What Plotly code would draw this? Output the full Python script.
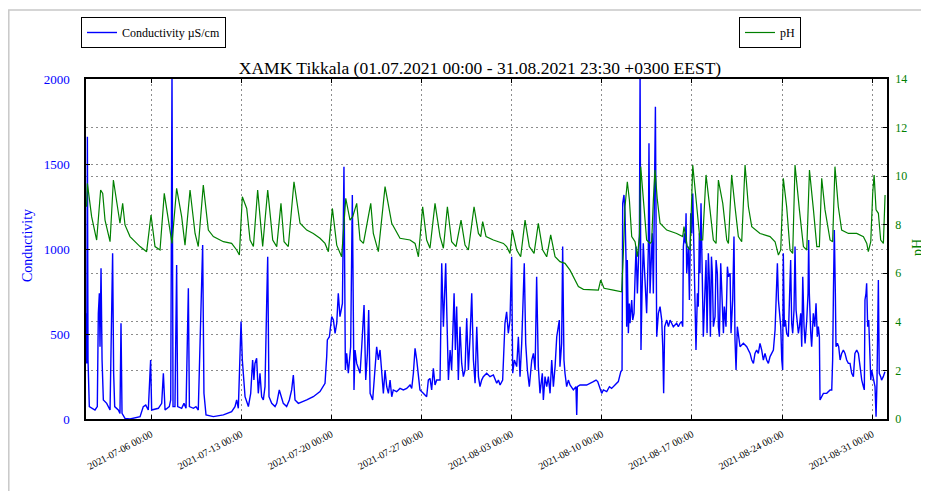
import pandas as pd
import plotly.graph_objects as go

START = pd.Timestamp("2021-07-01 00:00")
SERIF = "Liberation Serif, Times New Roman, serif"
BLUE = "#0000ff"
GREEN = "#008000"

# conductivity (µS/cm), time as days since 01.07.2021 00:00
cond_days = [
    0.00, 0.01, 0.06, 0.11, 0.21, 0.39, 0.65, 0.83, 0.91, 0.99,
    1.04, 1.12, 1.20, 1.30, 1.56, 1.82, 1.95, 2.02, 2.10, 2.18,
    2.46, 2.59, 2.67, 2.75, 2.98, 3.37, 4.15, 4.40, 4.59, 4.79,
    4.97, 5.05, 5.57, 5.83, 5.96, 6.09, 6.42, 6.53, 6.63, 6.71,
    6.86, 6.99, 7.07, 7.38, 7.56, 7.72, 7.90, 7.98, 8.29, 8.49,
    8.67, 8.93, 9.01, 9.11, 9.27, 9.84, 10.62, 11.26, 11.52, 11.65,
    11.78, 11.99, 12.09, 12.30, 12.56, 12.74, 12.89, 12.99, 13.07, 13.20,
    13.33, 13.46, 13.59, 13.72, 13.85, 13.98, 14.06, 14.16, 14.37, 14.63,
    14.76, 14.96, 15.09, 15.27, 15.53, 15.74, 15.92, 16.05, 16.18, 16.44,
    17.09, 17.60, 18.12, 18.51, 18.64, 18.69, 18.85, 18.95, 19.03, 19.16,
    19.29, 19.42, 19.54, 19.67, 19.86, 19.98, 20.09, 20.19, 20.32, 20.50,
    20.63, 20.76, 20.84, 20.97, 21.23, 21.36, 21.54, 21.67, 21.80, 21.90,
    22.01, 22.21, 22.39, 22.52, 22.65,
    22.78, 22.91, 23.04, 23.17, 23.30, 23.43, 23.56, 23.69, 23.81, 24.07,
    24.33, 24.59, 24.85, 25.11, 25.24, 25.37, 25.50, 25.63, 25.76, 25.88,
    26.14, 26.40, 26.53, 26.66, 26.79, 26.92, 27.05, 27.18, 27.44, 27.57,
    27.70, 27.78, 27.88, 27.96, 28.09, 28.22, 28.34, 28.53, 28.63, 28.73,
    28.86, 28.99, 29.12, 29.25, 29.38, 29.51, 29.64, 29.77, 29.90, 30.03,
    30.16, 30.29, 30.42, 30.54, 30.67, 30.80, 31.06, 31.32, 31.58, 31.84,
    31.97, 32.10, 32.30, 32.48, 32.61, 32.74, 32.87, 33.00, 33.08, 33.21,
    33.39, 33.52, 33.65, 33.78, 33.91, 33.98, 34.09, 34.22, 34.37, 34.56,
    34.69, 34.82, 34.94, 35.07, 35.20, 35.38, 35.46, 35.59, 35.72, 35.85,
    35.98, 36.11, 36.24, 36.37, 36.50, 36.62, 36.70, 36.75, 36.88, 36.96,
    37.06, 37.14, 37.27, 37.40, 37.53, 37.79, 37.99, 38.05, 38.10, 38.31,
    38.82, 39.34, 39.55, 39.68, 39.86, 39.99, 40.12, 40.38, 40.59, 40.76,
    41.02, 41.28, 41.47, 41.57,
    41.62, 41.72, 41.80, 41.88, 41.93, 41.98, 42.06, 42.14, 42.19, 42.32,
    42.40, 42.50, 42.58, 42.66, 42.76, 42.84, 42.92, 42.97, 43.04, 43.12,
    43.22, 43.30, 43.38, 43.48, 43.61, 43.66, 43.74, 43.82, 43.92, 44.00,
    44.08, 44.16, 44.26, 44.39, 44.52, 44.65, 44.73, 44.80, 44.88, 45.04,
    45.17, 45.30, 45.42, 45.55, 45.81, 45.94, 46.07, 46.20, 46.28, 46.33,
    46.41, 46.49, 46.54, 46.59, 46.72, 46.80, 46.90, 46.98, 47.06, 47.16,
    47.24, 47.31, 47.42, 47.49, 47.57, 47.62, 47.70, 47.78, 47.88, 47.99,
    48.09, 48.17, 48.27, 48.35, 48.43, 48.51, 48.58, 48.66, 48.79, 48.87,
    48.97, 49.05, 49.13, 49.23, 49.31, 49.44, 49.51, 49.64, 49.75, 49.83,
    49.96, 50.03, 50.16, 50.26, 50.34, 50.42, 50.52, 50.63, 50.73, 50.99,
    51.25, 51.51, 51.64, 51.77, 51.89, 52.02, 52.15, 52.28, 52.41, 52.54,
    52.67, 52.80, 52.93, 53.06, 53.19, 53.32, 53.45, 53.53, 53.63, 53.71,
    53.78, 53.89, 53.97, 54.04, 54.09, 54.17, 54.25, 54.35, 54.48, 54.56,
    54.66, 54.74, 54.82, 54.92, 55.00, 55.08, 55.18, 55.26, 55.34, 55.44,
    55.52, 55.60, 55.70, 55.78, 55.91, 56.01, 56.06, 56.11, 56.22, 56.29,
    56.42, 56.53, 56.63, 56.73, 56.81, 56.89, 56.94, 57.07, 57.20, 57.46,
    57.72, 57.85, 57.92, 57.98, 58.05, 58.13, 58.18, 58.29, 58.39, 58.50,
    58.62, 58.75, 58.88, 59.01, 59.14, 59.27, 59.40, 59.53, 59.65, 59.79,
    59.92, 60.05, 60.18, 60.31, 60.38, 60.43, 60.51, 60.56, 60.64, 60.72,
    60.80, 60.88, 60.95, 61.08, 61.21, 61.29, 61.36, 61.47, 61.54, 61.65,
    61.72, 61.85, 61.98,
]
cond_vals = [
    622, 327, 1661, 347, 73, 63, 53, 73, 622, 739,
    425, 886, 347, 112, 92, 53, 680, 975, 269, 73,
    53, 33, 563, 33, 4, 0, 14, 73, 82, 53,
    347, 53, 63, 92, 269, 53, 73, 112, 2050, 73,
    73, 906, 73, 63, 92, 63, 769, 73, 63, 73,
    53, 827, 1024, 151, 24, 14, 24, 43, 73, 112,
    63, 573, 347, 131, 73, 151, 347, 229, 327, 357,
    151, 269, 131, 112, 190, 680, 955, 131, 92, 73,
    92, 171, 131, 92, 73, 112, 171, 259, 112, 92,
    112, 131, 161, 210, 367, 465, 484, 563, 602, 582,
    504, 563, 739, 602, 680, 1484, 288, 386, 269, 425,
    1318, 171, 406, 327, 269, 425, 671, 229, 386, 641,
    151, 112, 308, 425, 347,
    406, 278, 151, 288, 190, 151, 229, 131, 171, 161,
    180, 171, 180, 200, 180, 269, 416, 347, 269, 171,
    151, 131, 229, 239, 171, 298, 200, 229, 229, 916,
    543, 739, 916, 641, 229, 406, 288, 739, 406, 661,
    229, 543, 327, 249, 288, 592, 288, 484, 739, 347,
    210, 543, 249, 190, 229, 249, 269, 249, 259, 210,
    229, 200, 229, 563, 631, 504, 582, 955, 269, 347,
    308, 484, 249, 445, 739, 916, 445, 288, 190, 347,
    386, 288, 837, 308, 151, 269, 112, 249, 190, 249,
    151, 347, 190, 308, 484, 543, 582, 308, 445, 1014,
    347, 269, 190, 229, 200, 171, 190, 24, 190, 200,
    200, 220, 229, 220, 171, 151, 171, 161, 190, 180,
    200, 220, 278, 288,
    1269, 1318, 1210, 935, 543, 935, 504, 680, 563, 700,
    582, 622, 837, 1014, 739, 955, 1092, 2050, 406, 739,
    1033, 896, 739, 622, 994, 1622, 739, 916, 1092, 739,
    1327, 1837, 484, 622, 661, 582, 425, 151, 543, 582,
    543, 582, 563, 543, 563, 543, 563, 573, 543, 1014,
    1092, 1033, 1210, 857, 1014, 700, 1210, 1092, 1327, 896,
    504, 406, 739, 661, 1092, 857, 1269, 837, 484, 720,
    935, 504, 975, 818, 484, 955, 857, 543, 602, 935,
    857, 543, 484, 916, 739, 504, 661, 543, 896, 837,
    857, 504, 700, 1073, 465, 288, 543, 484, 425, 445,
    425, 386, 347, 327, 386, 406, 386, 445, 406, 347,
    386, 347, 327, 367, 386, 406, 524, 739, 916, 700,
    622, 543, 347, 288, 975, 543, 582, 504, 484, 700,
    935, 563, 504, 641, 1014, 641, 543, 504, 543, 622,
    425, 837, 543, 445, 582, 739, 1053, 739, 504, 425,
    622, 543, 680, 484, 543, 484, 112, 131, 151, 151,
    171, 171, 347, 739, 1112, 739, 425, 445, 425, 347,
    386, 406, 386, 347, 327, 327, 269, 249, 386, 406,
    386, 308, 229, 190, 171, 700, 739, 798, 543, 582,
    386, 229, 288, 229, 190, 14, 210, 818, 269, 249,
    229, 249, 278,
]

# pH, time as days since 01.07.2021 00:00
ph_days = [
    0.00, 0.06, 0.39, 0.78, 1.09, 1.25, 1.43, 1.82, 2.08, 2.33,
    2.59, 2.80, 2.98, 3.37, 4.15, 4.66, 5.00, 5.31, 5.70, 6.03,
    6.35, 6.63, 6.99, 7.38, 7.64, 8.03, 8.42, 8.67, 9.06, 9.45,
    9.84, 10.62, 11.26, 11.65, 11.86, 12.09, 12.43, 12.69, 12.95, 13.28,
    13.67, 14.06, 14.45, 14.76, 15.09, 15.33, 15.66, 16.10, 16.57, 17.09,
    17.60, 18.12, 18.51, 18.77, 19.08, 19.42, 19.80, 20.12, 20.45, 20.66,
    20.97, 21.23, 21.49, 21.74, 22.06, 22.26, 22.65, 23.17, 23.69, 24.33,
    25.11, 25.50, 25.76, 26.09, 26.40, 26.66, 27.05, 27.44, 27.70, 28.01,
    28.34, 28.68, 29.07, 29.38, 29.64, 30.08, 30.42, 30.60, 30.75, 31.01,
    31.58, 32.36, 32.61, 32.87, 33.05, 33.39, 33.70, 34.04, 34.37, 34.74,
    35.07, 35.41, 35.72, 36.03, 36.37, 36.75, 37.14, 37.53, 37.92, 38.18,
    38.57, 39.34, 39.73, 39.91, 40.17, 40.90, 41.54, 41.67, 41.80, 41.98,
    42.14, 42.32, 42.58, 42.76, 42.92, 43.02, 43.22, 43.48, 43.74, 43.87,
    44.00, 44.13, 44.31, 44.52, 45.04, 45.81, 46.28, 46.38, 46.64, 46.85,
    47.06, 47.37, 47.62, 47.83, 48.09, 48.40, 48.66, 48.87, 49.05, 49.39,
    49.70, 49.83, 50.08, 50.34, 50.60, 50.86, 51.12, 51.38, 51.64, 52.28,
    53.06, 53.45, 53.71, 53.89, 54.09, 54.35, 54.61, 54.82, 55.00, 55.34,
    55.65, 55.91, 56.12, 56.43, 56.69, 56.89, 57.07, 57.33, 57.72, 57.92,
    58.10, 58.36, 58.62, 59.14, 59.79, 60.31, 60.57, 60.69, 60.88, 61.03,
    61.14, 61.29, 61.47, 61.65, 61.86, 61.99,
]
ph_vals = [
    8.74, 9.70, 8.33, 7.37, 9.43, 9.29, 8.19, 7.30, 9.84, 9.02,
    8.06, 8.88, 7.99, 7.51, 7.10, 6.89, 8.40, 7.10, 6.96, 9.29,
    8.19, 7.23, 9.50, 8.33, 7.16, 9.43, 7.64, 7.10, 9.63, 7.78,
    7.51, 7.30, 7.23, 6.96, 6.75, 9.15, 8.67, 7.37, 7.10, 9.43,
    7.10, 9.43, 7.37, 7.10, 8.88, 7.30, 7.10, 9.77, 8.06, 7.78,
    7.64, 7.44, 7.23, 6.89, 8.67, 7.16, 6.68, 9.09, 8.19, 8.33,
    8.88, 7.37, 7.23, 7.92, 8.88, 7.64, 6.89, 9.57, 8.06, 7.44,
    7.37, 7.23, 6.68, 8.74, 7.37, 7.03, 8.88, 7.51, 7.03, 8.74,
    7.30, 7.10, 8.19, 7.16, 6.96, 8.74, 7.64, 7.51, 8.13, 7.51,
    7.37, 7.23, 7.10, 6.82, 7.78, 6.96, 6.68, 8.19, 7.10, 6.82,
    8.06, 6.96, 6.68, 7.58, 6.68, 6.48, 6.41, 6.13, 5.72, 5.45,
    5.34, 5.31, 5.31, 5.72, 5.38, 5.31, 5.24, 6.82, 8.74, 9.77,
    9.02, 7.51, 7.30, 6.68, 7.51, 10.39, 9.02, 7.37, 7.23, 7.30,
    9.02, 10.25, 9.02, 8.06, 7.78, 7.64, 7.51, 7.92, 7.10, 6.96,
    10.46, 8.88, 7.37, 7.37, 10.05, 8.61, 7.37, 7.23, 9.84, 8.88,
    7.37, 7.23, 10.05, 8.74, 7.51, 7.30, 10.46, 8.74, 7.92, 7.64,
    7.51, 7.30, 6.75, 6.96, 9.91, 8.74, 6.96, 6.82, 10.46, 8.61,
    7.10, 6.96, 10.25, 8.61, 7.10, 7.10, 9.91, 8.61, 7.37, 7.30,
    10.39, 8.74, 7.78, 7.64, 7.64, 7.51, 7.23, 6.89, 7.30, 9.29,
    10.05, 8.61, 8.47, 7.37, 7.23, 9.22,
]

cond_time = START + pd.to_timedelta(cond_days, unit="D")
ph_time = START + pd.to_timedelta(ph_days, unit="D")

# the page puts the figure 8px in from the top-left corner, so the figure
# is 8px smaller than the window and every pixel position below is page - 8
W, H = 921, 483
L, R, T, B = 78, 42, 71, 72
PW, PH = W - L - R, H - T - B


def px_x(x):
    # page pixel -> paper x
    return (x - 8 - L) / PW


def px_y(y):
    # page pixel -> paper y
    return (H - B - (y - 8)) / PH


fig = go.Figure()

fig.add_trace(
    go.Scatter(
        x=cond_time,
        y=cond_vals,
        mode="lines",
        name="Conductivity µS/cm",
        line=dict(color=BLUE, width=1.4),
        yaxis="y",
        legend="legend",
        showlegend=True,
    )
)
fig.add_trace(
    go.Scatter(
        x=ph_time,
        y=ph_vals,
        mode="lines",
        name="pH",
        line=dict(color=GREEN, width=1.2),
        yaxis="y2",
        legend="legend2",
        showlegend=True,
    )
)

legend_style = dict(
    xref="container",
    yref="container",
    xanchor="left",
    yanchor="top",
    y=1 - (17 - 8) / H,
    bordercolor="black",
    borderwidth=1,
    bgcolor="white",
    itemwidth=30,
    font=dict(family=SERIF, size=12, color="black"),
)

grid = dict(showgrid=True, gridcolor="#8c8c8c", griddash="2px,3px", gridwidth=0.8)
frame = dict(
    ticks="inside",
    ticklen=4,
    tickcolor="black",
    showline=True,
    linecolor="black",
    linewidth=1.5,
    zeroline=False,
    automargin=False,
)

fig.update_layout(
    width=W,
    height=H,
    margin=dict(l=L, r=R, t=T, b=B, autoexpand=False),
    paper_bgcolor="white",
    plot_bgcolor="white",
    font=dict(family=SERIF),
    showlegend=True,
    title=dict(
        text="XAMK Tikkala (01.07.2021 00:00 - 31.08.2021 23:30 +0300 EEST)",
        font=dict(family=SERIF, size=17.5, color="black"),
        xref="container",
        x=(480 - 8) / W,
        xanchor="center",
        y=1 - (68 - 8) / H,
        yanchor="middle",
    ),
    legend=dict(x=(81 - 8) / W, **legend_style),
    legend2=dict(x=(739 - 8) / W, **legend_style),
    xaxis=dict(
        type="date",
        range=[START - pd.Timedelta(days=0.047), START + pd.Timedelta(days=62.14)],
        tick0="2021-07-06",
        dtick=7 * 86400000,
        tickformat="%Y-%m-%d %H:%M",
        tickangle=-28,
        tickfont=dict(family=SERIF, size=10, color="black"),
        ticklabelstandoff=4,
        mirror="ticks",
        **frame,
        **grid,
    ),
    yaxis=dict(
        range=[0, 2000],
        dtick=500,
        tickfont=dict(family=SERIF, size=13, color=BLUE),
        ticklabelstandoff=12,
        **frame,
        **grid,
    ),
    yaxis2=dict(
        overlaying="y",
        side="right",
        range=[0, 14],
        dtick=2,
        tickfont=dict(family=SERIF, size=12, color=GREEN),
        ticklabelstandoff=4,
        **frame,
        **grid,
    ),
)

# axis titles
fig.add_annotation(
    text="Conductivity", xref="paper", yref="paper", x=px_x(27), y=px_y(246),
    textangle=-90, showarrow=False, xanchor="center", yanchor="middle",
    font=dict(family=SERIF, size=14, color=BLUE),
)
fig.add_annotation(
    text="pH", xref="paper", yref="paper", x=1, xshift=917 - 887, y=px_y(248),
    textangle=-90, showarrow=False, xanchor="center", yanchor="middle",
    font=dict(family=SERIF, size=14, color=GREEN),
)

# light frame around the figure
fig.add_shape(
    type="rect",
    xref="paper",
    yref="paper",
    x0=px_x(8.8),
    x1=1.2,
    y0=-0.5,
    y1=px_y(10),
    line=dict(color="#c8c8c8", width=1.5),
    fillcolor="rgba(0,0,0,0)",
    layer="below",
)

fig.write_html("out.html")
